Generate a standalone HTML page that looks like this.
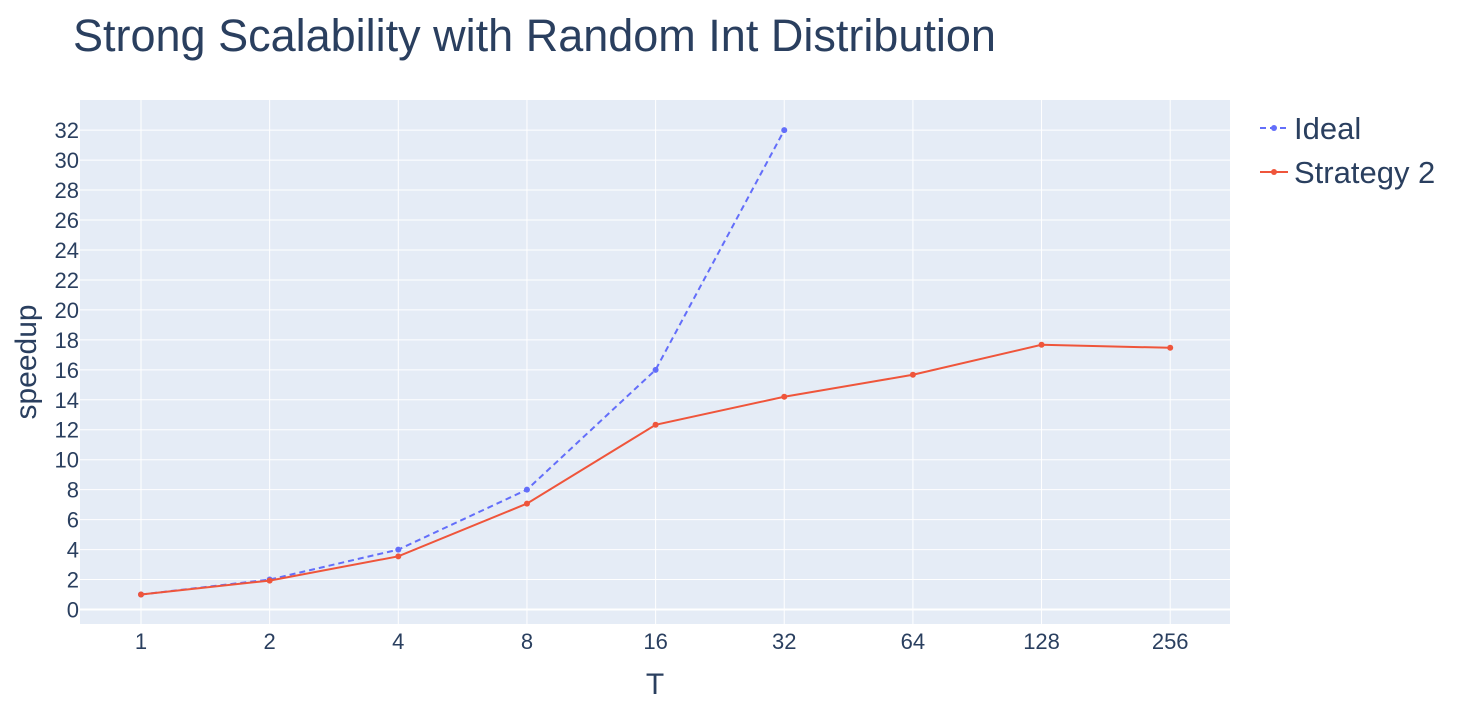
<!DOCTYPE html>
<html><head><meta charset="utf-8"><style>
body{margin:0;background:#fff;}
svg{font-family:"Liberation Sans",sans-serif;}
</style></head><body>
<svg id="c" width="1460" height="706" xmlns="http://www.w3.org/2000/svg">
<text x="73" y="51" font-size="45" fill="#2a3f5f">Strong Scalability with Random Int Distribution</text>
<rect x="80" y="100" width="1150" height="524" fill="#e5ecf6"/>
<g id="grid"></g><g id="series"></g>
<text x="655" y="694" font-size="30" fill="#2a3f5f" text-anchor="middle">T</text>
<text transform="translate(36,362) rotate(-90)" font-size="30" fill="#2a3f5f" text-anchor="middle">speedup</text>
<g>
<g><line x1="1260" y1="128" x2="1288" y2="128" stroke="#636efa" stroke-width="2" stroke-dasharray="6,4"/><circle cx="1274" cy="128" r="3" fill="#636efa"/><text x="1294" y="139" font-size="31" fill="#2a3f5f">Ideal</text></g>
<g><line x1="1260" y1="172" x2="1288" y2="172" stroke="#ef553b" stroke-width="2"/><circle cx="1274" cy="172" r="3" fill="#ef553b"/><text x="1294" y="183" font-size="31" fill="#2a3f5f">Strategy 2</text></g>
</g>
</svg>
<script>
const categories=[1,2,4,8,16,32,64,128,256];
const idealValues=[1,2,4,8,16,32];
const strategy2Values=[1.0,1.93,3.55,7.07,12.33,14.2,15.67,17.67,17.47];
const yTicks=[0,2,4,6,8,10,12,14,16,18,20,22,24,26,28,30,32];
const NS="http://www.w3.org/2000/svg";
const X=v=>141+Math.log2(v)*128.65;
const Y=v=>609.5-v*14.98;
const grid=document.getElementById('grid'),ser=document.getElementById('series');
function mk(tag,attrs,parent){const e=document.createElementNS(NS,tag);for(const k in attrs)e.setAttribute(k,attrs[k]);parent.appendChild(e);return e;}
categories.forEach(c=>{
 const l=mk('line',{x1:X(c),x2:X(c),y1:100,y2:624,stroke:'#fff','stroke-width':1},grid);
 
 
 const t=mk('text',{x:X(c),y:649,'font-size':22,fill:'#2a3f5f','text-anchor':'middle'},grid);
 t.textContent=c;
 
 
});
yTicks.forEach(v=>{
 const l=mk('line',{x1:80,x2:1230,y1:Y(v),y2:Y(v),stroke:'#fff','stroke-width':v===0?2:1},grid);
 
 
 const t=mk('text',{x:79,y:Y(v)+8,'font-size':22,fill:'#2a3f5f','text-anchor':'end'},grid);
 t.textContent=v;
 
 
});
function draw(vals,color,dash,name){
 const pts=vals.map((v,i)=>X(categories[i])+','+Y(v)).join(' ');
 const p=mk('polyline',{points:pts,fill:'none',stroke:color,'stroke-width':2,'stroke-dasharray':dash},ser);
 
 
 vals.forEach((v,i)=>{
  const c=mk('circle',{cx:X(categories[i]),cy:Y(v),r:3,fill:color},ser);
  
  
 });
}
draw(idealValues,'#636efa','6,4','ideal');
draw(strategy2Values,'#ef553b','none','strategy-2');
</script>
</body></html>
